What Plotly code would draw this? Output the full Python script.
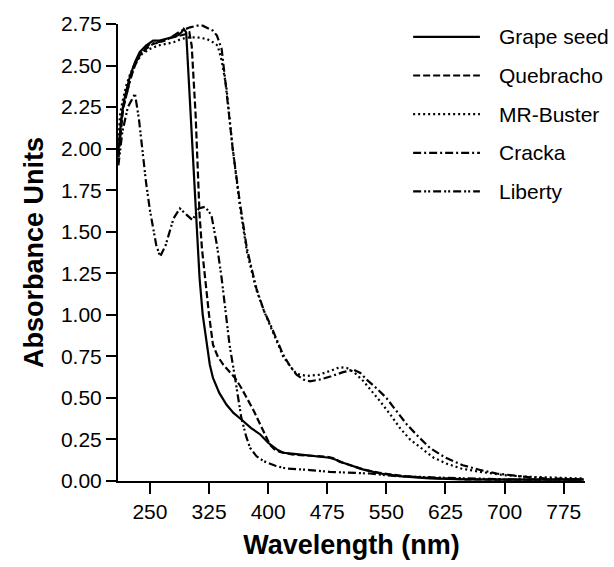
import plotly.graph_objects as go

# ---- data ----
grape_wl = [210, 213, 216, 220, 225, 231, 237, 245, 254, 262, 270, 278, 285, 290, 293, 296, 300, 304, 309, 313, 317, 322, 326, 330, 338, 347, 356, 366, 378, 390, 400, 411, 419, 430, 440, 457, 470, 478, 485, 491, 498, 504, 520, 542, 570, 605, 650, 700, 750, 800]
grape_ab = [1.98, 2.15, 2.26, 2.35, 2.44, 2.52, 2.58, 2.62, 2.65, 2.65, 2.66, 2.67, 2.68, 2.70, 2.72, 2.70, 2.35, 2.00, 1.60, 1.22, 1.00, 0.82, 0.70, 0.62, 0.53, 0.46, 0.41, 0.37, 0.32, 0.28, 0.23, 0.19, 0.17, 0.165, 0.16, 0.152, 0.147, 0.14, 0.13, 0.115, 0.105, 0.095, 0.07, 0.045, 0.028, 0.016, 0.010, 0.008, 0.008, 0.008]

queb_wl = [210, 213, 216, 220, 225, 231, 237, 245, 254, 262, 270, 280, 290, 296, 300, 303, 308, 313, 316, 320, 325, 330, 336, 343, 350, 358, 366, 373, 382, 390, 396, 402, 408, 415, 430, 450, 465, 475, 485, 490, 498, 505, 520, 540, 570, 600, 650, 700, 750, 800]
queb_ab = [1.95, 2.12, 2.24, 2.32, 2.42, 2.50, 2.56, 2.60, 2.63, 2.64, 2.66, 2.67, 2.68, 2.69, 2.70, 2.62, 2.20, 1.60, 1.40, 1.22, 1.00, 0.82, 0.75, 0.70, 0.66, 0.62, 0.56, 0.50, 0.42, 0.34, 0.28, 0.22, 0.19, 0.175, 0.16, 0.155, 0.15, 0.145, 0.135, 0.12, 0.105, 0.095, 0.07, 0.05, 0.03, 0.02, 0.010, 0.008, 0.008, 0.008]

mr_wl = [210, 212, 215, 220, 225, 230, 240, 250, 260, 270, 280, 290, 300, 310, 322, 330, 336, 341, 347, 355, 364, 373, 385, 395, 402, 410, 419, 428, 436, 449, 465, 480, 491, 500, 510, 521, 530, 542, 555, 567, 580, 597, 610, 626, 645, 669, 700, 732, 770, 800]
mr_ab = [2.05, 2.20, 2.28, 2.38, 2.45, 2.50, 2.57, 2.60, 2.62, 2.63, 2.64, 2.66, 2.67, 2.67, 2.66, 2.64, 2.62, 2.53, 2.37, 2.00, 1.66, 1.38, 1.15, 1.02, 0.94, 0.85, 0.75, 0.69, 0.645, 0.632, 0.64, 0.665, 0.685, 0.68, 0.65, 0.60, 0.55, 0.48, 0.40, 0.32, 0.25, 0.185, 0.14, 0.105, 0.075, 0.055, 0.035, 0.025, 0.018, 0.015]

cracka_wl = [210, 213, 216, 220, 225, 230, 240, 250, 260, 270, 280, 290, 301, 310, 317, 325, 330, 335, 341, 347, 355, 364, 373, 385, 395, 402, 410, 419, 428, 436, 445, 453, 465, 480, 495, 508, 517, 525, 537, 550, 563, 576, 590, 605, 625, 647, 670, 690, 720, 753, 800]
cracka_ab = [1.95, 2.15, 2.25, 2.32, 2.42, 2.50, 2.59, 2.63, 2.64, 2.65, 2.68, 2.71, 2.73, 2.74, 2.74, 2.72, 2.71, 2.68, 2.60, 2.35, 2.00, 1.68, 1.40, 1.16, 1.02, 0.95, 0.86, 0.76, 0.69, 0.64, 0.61, 0.60, 0.61, 0.63, 0.655, 0.67, 0.65, 0.61, 0.56, 0.50, 0.42, 0.34, 0.27, 0.20, 0.14, 0.095, 0.065, 0.045, 0.028, 0.015, 0.010]

lib_wl = [210, 215, 222, 231, 236, 240, 245, 250, 258, 263, 270, 280, 288, 297, 304, 312, 320, 328, 335, 341, 346, 351, 358, 366, 372, 377, 385, 394, 410, 423, 453, 478, 529, 560, 620, 700, 800]
lib_ab = [1.90, 2.10, 2.25, 2.33, 2.18, 2.00, 1.80, 1.63, 1.42, 1.35, 1.42, 1.58, 1.64, 1.60, 1.57, 1.64, 1.65, 1.60, 1.42, 1.22, 1.02, 0.82, 0.62, 0.38, 0.27, 0.20, 0.15, 0.12, 0.09, 0.075, 0.066, 0.055, 0.045, 0.03, 0.02, 0.01, 0.008]

series_names = ["Grape seed", "Quebracho", "MR-Buster", "Cracka", "Liberty"]
x_ticks = [250, 325, 400, 475, 550, 625, 700, 775]
y_ticks = [0.00, 0.25, 0.50, 0.75, 1.00, 1.25, 1.50, 1.75, 2.00, 2.25, 2.50, 2.75]

# ---- styling ----
dashes = ["solid", "7px,3px", "2px,3px", "8px,3px,2px,3px", "8px,3px,2px,2px,2px,3px"]
xs = [grape_wl, queb_wl, mr_wl, cracka_wl, lib_wl]
ys = [grape_ab, queb_ab, mr_ab, cracka_ab, lib_ab]
FONT = "Liberation Sans, Arial, Helvetica, sans-serif"

fig = go.Figure()
for name, x, y, d in zip(series_names, xs, ys, dashes):
    fig.add_trace(go.Scatter(x=x, y=y, mode="lines", name=name, showlegend=False,
                             line=dict(color="black", width=2.2, dash=d)))

# manual legend (long line samples like the reference)
leg_y = [0.9718, 0.8873, 0.8028, 0.7182, 0.6337]
for name, d, ly in zip(series_names, dashes, leg_y):
    fig.add_shape(type="line", xref="paper", yref="paper", x0=0.632, x1=0.775, y0=ly, y1=ly,
                  line=dict(color="black", width=2.2, dash=d))
    fig.add_annotation(xref="paper", yref="paper", x=0.811, y=ly, text=name, showarrow=False,
                       xanchor="left", yanchor="middle", font=dict(family=FONT, size=21, color="black"))

fig.update_layout(
    width=614, height=567,
    margin=dict(l=118, r=29, t=23, b=83),
    paper_bgcolor="white", plot_bgcolor="white",
    font=dict(family=FONT, size=21, color="black"),
)
fig.update_xaxes(range=[209.5, 802], tickvals=x_ticks, ticks="outside", ticklen=11, tickwidth=2,
                 tickcolor="black", showline=True, linecolor="black", linewidth=2, showgrid=False,
                 zeroline=False, tickfont=dict(size=21),
                 title=dict(text="<b>Wavelength (nm)</b>", font=dict(size=27), standoff=13))
fig.update_yaxes(range=[0, 2.75], tickvals=y_ticks, tickformat=".2f", ticks="outside", ticklen=10,
                 tickwidth=2, tickcolor="black", showline=True, linecolor="black", linewidth=2,
                 showgrid=False, zeroline=False, tickfont=dict(size=21),
                 title=dict(text="<b>Absorbance Units</b>", font=dict(size=27), standoff=9))

fig.write_html("out.html")
